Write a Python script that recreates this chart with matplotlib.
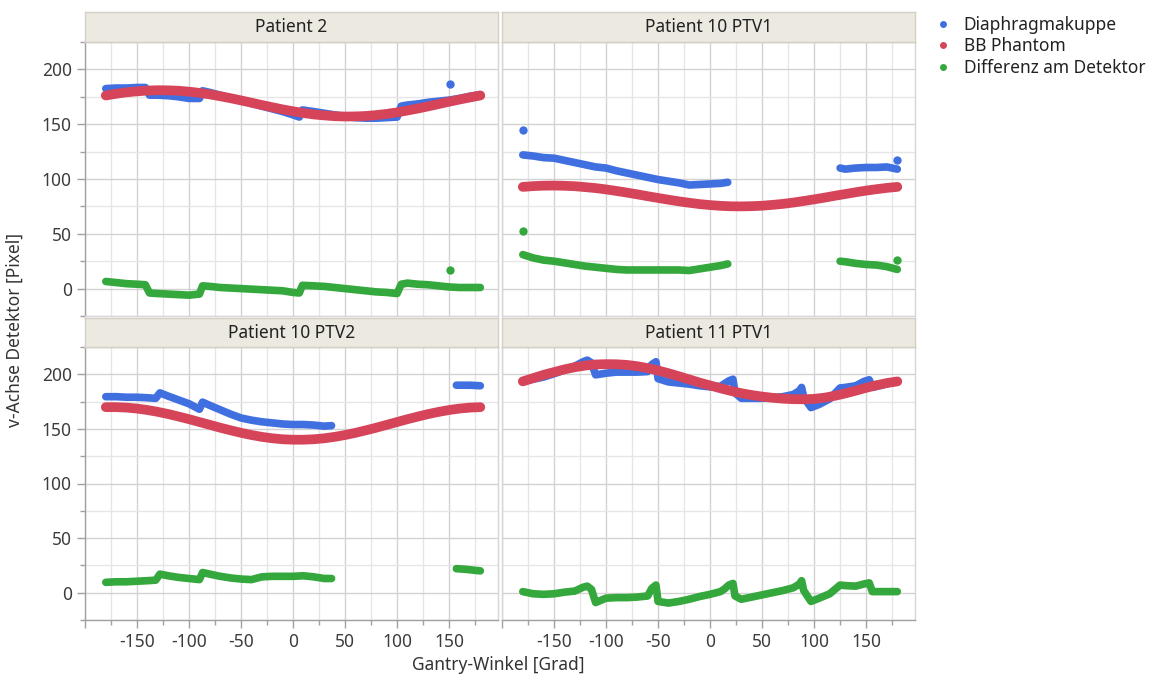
import matplotlib
matplotlib.use("Agg")
import matplotlib.pyplot as plt
import numpy as np
from matplotlib.lines import Line2D
from matplotlib.ticker import MultipleLocator, FuncFormatter

plt.rcParams["font.family"] = ["Noto Sans", "DejaVu Sans"]
plt.rcParams["axes.unicode_minus"] = False

FARBE_DK = "#4070E0"
FARBE_BB = "#D6445A"
FARBE_DIFF = "#34A83C"
NAN = np.nan

# Gantry-Winkel der BB-Phantom-Kurven (alle 10 Grad)
WINKEL_BB = [-180, -170, -160, -150, -140, -130, -120, -110, -100, -90, -80, -70, -60,
             -50, -40, -30, -20, -10, 0, 10, 20, 30, 40, 50, 60, 70, 80, 90, 100, 110,
             120, 130, 140, 150, 160, 170, 180]

# ---- Patient 2 ----
P2_BB = [176.2, 177.8, 179.1, 180.0, 180.7, 181.0, 180.9, 180.5, 179.7, 178.6, 177.2,
         175.5, 173.7, 171.7, 169.6, 167.5, 165.5, 163.5, 161.8, 160.2, 158.9, 158.0,
         157.3, 157.0, 157.1, 157.5, 158.3, 159.4, 160.8, 162.5, 164.3, 166.3, 168.4,
         170.5, 172.5, 174.4, 176.2]
P2_WINKEL = [-180, -170, -160, -150, -142, -138, -130, -120, -110, -100, -90, -87, -80,
             -70, -60, -50, -40, -30, -20, -10, 0, 6, 9, 20, 30, 40, 50, 60, 70, 80, 90,
             100, 104, 110, 120, 130, 140, 150, 160, 170, 180]
P2_DK = [182.5, 183, 183, 183.5, 183.5, 176.5, 176.5, 176, 175, 173.5, 173.5, 180.5, 179,
         176.5, 174, 171.5, 169, 166.5, 164, 161.5, 158.5, 156.5, 163, 161.5, 160, 158.5,
         157, 156, 155.5, 155.5, 156, 156.5, 166.5, 167.5, 168.5, 170, 171, 172, 173.5,
         175.5, 177]
P2_DIFF = [6.5, 5.5, 4.5, 4, 3.5, -4, -4.5, -5, -5.5, -6, -5, 2.5, 2, 1, 0.5, 0, -0.5,
           -1, -1.5, -2, -3.5, -4, 3, 2.5, 2, 1, 0, -1, -2, -3, -3.5, -4.5, 4, 5, 4, 3.5,
           2.5, 1.5, 1, 1, 1]
P2_AUSR_WINKEL = [151]
P2_AUSR_DK = [187]
P2_AUSR_DIFF = [17]

# ---- Patient 10 PTV1 ----
P10A_BB = [92.8, 93.5, 93.9, 94.0, 93.8, 93.4, 92.6, 91.7, 90.5, 89.1, 87.6, 86.0, 84.3,
           82.7, 81.1, 79.6, 78.3, 77.1, 76.2, 75.5, 75.1, 75.0, 75.2, 75.6, 76.4, 77.3,
           78.5, 79.9, 81.4, 83.0, 84.7, 86.3, 87.9, 89.4, 90.7, 91.9, 92.8]
P10A_WINKEL = [-180, -170, -160, -150, -140, -130, -120, -110, -100, -90, -80, -70, -60,
               -50, -40, -30, -20, -10, 0, 10, 17, 70, 125, 130, 140, 150, 160, 170, 180]
P10A_DK = [122, 121, 119.5, 119, 117, 115, 113, 111, 110, 107.5, 105.5, 103.5, 101.5,
           99.5, 98, 96.5, 94.5, 95, 95.5, 96, 97, NAN, 110, 109, 110, 110.5, 110.5, 111, 109]
P10A_DIFF = [31, 28, 26, 25, 23.5, 22, 20.5, 19.5, 18.5, 17.5, 17, 17, 17, 17, 17, 17,
             16.5, 18, 19.5, 21, 22.5, NAN, 25, 24.5, 23, 22, 21.5, 20, 17.5]
P10A_AUSR_WINKEL = [-180, 180]
P10A_AUSR_DK = [144.5, 117]
P10A_AUSR_DIFF = [53, 26]

# ---- Patient 10 PTV2 ----
P10B_BB = [169.9, 169.9, 169.5, 168.6, 167.3, 165.6, 163.6, 161.3, 158.9, 156.3, 153.7,
           151.1, 148.7, 146.4, 144.4, 142.7, 141.4, 140.5, 140.1, 140.1, 140.5, 141.4,
           142.7, 144.4, 146.4, 148.7, 151.1, 153.7, 156.3, 158.9, 161.3, 163.6, 165.6,
           167.3, 168.6, 169.5, 169.9]
P10B_WINKEL = [-180, -170, -160, -150, -140, -132, -128, -120, -110, -100, -90, -87, -80,
               -70, -60, -50, -40, -30, -20, -10, 0, 10, 20, 30, 37, 100, 157, 165, 170, 180]
P10B_DK = [179.5, 179.5, 179, 179, 178.5, 178, 183, 180, 176.5, 173, 168, 174.5, 171.5,
           167.5, 163.5, 160, 158, 156.5, 155.5, 154.5, 154, 154, 153.5, 152.5, 153, NAN,
           190, 190, 190, 189.5]
P10B_DIFF = [9.5, 10, 10, 10.5, 11, 11.5, 17, 15.5, 14, 13, 12, 18.5, 17, 15, 13.5, 12.5,
             12, 14.5, 15, 15, 15, 15.5, 14.5, 13, 13, NAN, 22, 21.5, 21, 20]

# ---- Patient 11 PTV1 ----
P11_BB = [193.5, 196.5, 199.5, 202, 204.5, 206.5, 208, 209, 209.3, 209.2, 208.6, 207.4,
          205.7, 203.5, 201, 198.2, 195.3, 192.4, 189.8, 187.2, 184.8, 182.7, 181, 179.6,
          178.5, 177.7, 177.2, 177.1, 177.5, 178.6, 180.3, 182.5, 185, 187.6, 190, 192,
          193.5]
P11_WINKEL = [-180, -175, -170, -160, -150, -140, -130, -122, -118, -114, -110, -100, -90,
              -80, -70, -60, -56, -52, -50, -40, -30, -20, -10, 0, 10, 14, 18, 22, 24, 30,
              40, 50, 60, 70, 80, 86, 88, 90, 97, 105, 115, 125, 130, 140, 148, 153, 156,
              165, 180]
P11_DK = [194, 194.5, 195.5, 197.5, 200.5, 204, 207.5, 211.5, 213, 210.5, 199.5, 201, 202,
          202, 202, 202.5, 209, 211.5, 196, 193, 192, 191, 189.5, 188.5, 189, 191.5, 194,
          195.5, 183, 178, 178, 178, 178.5, 179.5, 181.5, 185, 188, 179, 169.5, 172.5,
          177.5, 187.5, 188, 189.5, 193.5, 195, 188, 190, 194]
P11_DIFF = [1, 0, -1, -1.5, -1, 0.5, 1.5, 5, 6, 3, -9, -5, -4.5, -4.5, -4, -3, 4, 7, -8,
            -9.5, -8, -6, -3.5, -1.5, 1, 3.5, 7, 8.5, -3, -6, -4, -2, 0, 2, 4.5, 8, 11, 2,
            -8, -5, -1, 7, 6.5, 6, 8, 9, 1, 1, 1]

TITEL = ["Patient 2", "Patient 10 PTV1", "Patient 10 PTV2", "Patient 11 PTV1"]
LEGENDE = ["Diaphragmakuppe", "BB Phantom", "Differenz am Detektor"]

W, H = 1153, 678
fig = plt.figure(figsize=(W / 100, H / 100), dpi=100)


def px_axes(x0, y0, x1, y1, **kw):
    return fig.add_axes([x0 / W, 1 - y1 / H, (x1 - x0) / W, (y1 - y0) / H], **kw)


def strip(x0, y0, x1, y1, titel):
    sa = px_axes(x0, y0, x1, y1, facecolor="#ECE9E0")
    sa.set_xticks([])
    sa.set_yticks([])
    for sp in sa.spines.values():
        sp.set_color("#D3CFC4")
        sp.set_linewidth(1.0)
    sa.text(0.5, 0.5, titel, ha="center", va="center", fontsize=12.5, color="#222222",
            transform=sa.transAxes)


def panel(ax, winkel, dk, diff, bb, ausr=None, links=False, unten=False):
    ax.set_xlim(-200, 197)
    ax.set_ylim(-25, 225)
    ax.xaxis.set_major_locator(MultipleLocator(50))
    ax.xaxis.set_minor_locator(MultipleLocator(25))
    ax.yaxis.set_major_locator(MultipleLocator(50))
    ax.yaxis.set_minor_locator(MultipleLocator(25))
    ax.grid(which="major", color="#D2D2D2", lw=1.0)
    ax.grid(which="minor", color="#E6E6E6", lw=1.0)
    ax.set_axisbelow(True)
    for sp in ax.spines.values():
        sp.set_color("#D6D6D6")
        sp.set_linewidth(1.0)

    kw = dict(solid_capstyle="round", solid_joinstyle="round")
    ax.plot(winkel, diff, color=FARBE_DIFF, lw=5.5, zorder=3, **kw)
    ax.plot(winkel, dk, color=FARBE_DK, lw=5.5, zorder=3, **kw)
    ax.plot(WINKEL_BB, bb, color=FARBE_BB, lw=7, zorder=4, **kw)
    if ausr is not None:
        w, a_dk, a_diff = ausr
        ax.plot(w, a_dk, "o", color=FARBE_DK, ms=6, mec="none", zorder=5, clip_on=False)
        ax.plot(w, a_diff, "o", color=FARBE_DIFF, ms=6, mec="none", zorder=5, clip_on=False)

    ax.tick_params(which="both", colors="#A0A0A0", labelcolor="#3C3C3C", labelsize=12.5,
                   width=1.0)
    ax.tick_params(which="major", length=6)
    ax.tick_params(which="minor", length=3.5)
    if links:
        ax.spines["left"].set_color("#A0A0A0")
        ax.yaxis.set_major_formatter(FuncFormatter(lambda v, p: f"{v:.0f}"))
    else:
        ax.tick_params(axis="y", which="both", length=0, labelleft=False)
    if unten:
        ax.spines["bottom"].set_color("#A0A0A0")
        ax.xaxis.set_major_formatter(
            FuncFormatter(lambda v, p: "" if abs(v) >= 200 else f"{v:.0f}"))
    else:
        ax.tick_params(axis="x", which="both", length=0, labelbottom=False)


ax1 = px_axes(85, 42, 498, 316)
ax2 = px_axes(502, 42, 915, 316)
ax3 = px_axes(85, 347, 498, 620)
ax4 = px_axes(502, 347, 915, 620)
strip(85, 12, 498, 42, TITEL[0])
strip(502, 12, 915, 42, TITEL[1])
strip(85, 318, 498, 347, TITEL[2])
strip(502, 318, 915, 347, TITEL[3])

panel(ax1, P2_WINKEL, P2_DK, P2_DIFF, P2_BB,
      ausr=(P2_AUSR_WINKEL, P2_AUSR_DK, P2_AUSR_DIFF), links=True)
panel(ax2, P10A_WINKEL, P10A_DK, P10A_DIFF, P10A_BB,
      ausr=(P10A_AUSR_WINKEL, P10A_AUSR_DK, P10A_AUSR_DIFF))
panel(ax3, P10B_WINKEL, P10B_DK, P10B_DIFF, P10B_BB, links=True, unten=True)
panel(ax4, P11_WINKEL, P11_DK, P11_DIFF, P11_BB, unten=True)

fig.text(15 / W, 1 - 330 / H, "v-Achse Detektor [Pixel]", rotation=90, ha="center",
         va="center", fontsize=12.5, color="#333333")
fig.text(498 / W, 1 - 665 / H, "Gantry-Winkel [Grad]", ha="center", va="center",
         fontsize=12.5, color="#333333")

handles = [Line2D([], [], ls="", marker="o", ms=5, mec="none", color=c)
           for c in (FARBE_DK, FARBE_BB, FARBE_DIFF)]
fig.legend(handles, LEGENDE, loc="upper left", bbox_to_anchor=(934 / W, 1 - 16 / H),
           frameon=False, fontsize=12.5, handlelength=1.0, handletextpad=0.7,
           labelspacing=0.2, borderpad=0, borderaxespad=0, labelcolor="#222222")

fig.savefig("out.png", dpi=100, facecolor="white")
